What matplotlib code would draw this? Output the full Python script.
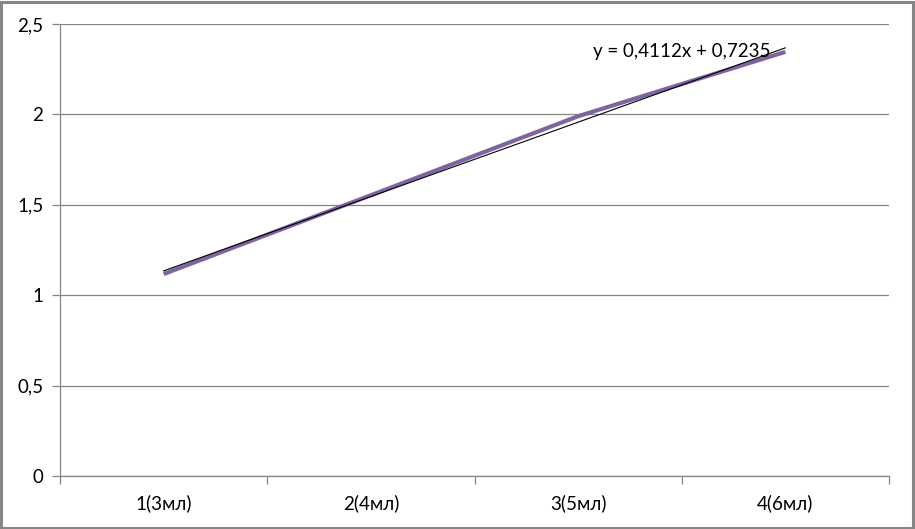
import numpy as np
import matplotlib.pyplot as plt

categories = ["1(3мл)", "2(4мл)", "3(5мл)", "4(6мл)"]
values = [1.117, 1.553, 1.99, 2.346]
trend_slope = 0.4112
trend_intercept = 0.7235
y_ticks = [0, 0.5, 1, 1.5, 2, 2.5]
y_tick_labels = ["0", "0,5", "1", "1,5", "2", "2,5"]

plt.rcParams["font.family"] = ["Lato", "DejaVu Sans"]
grid_col = "#868686"

fig = plt.figure(figsize=(9.15, 5.29), dpi=100)
ax = fig.add_axes([0.0656, 0.1002, 0.906, 0.8544])

x = np.arange(len(categories))
ax.plot(x, values, color="#8064A2", lw=3.0, solid_capstyle="butt", zorder=3)

# trend line from equation (x counted from 1)
xt = x + 1
ax.plot(x, trend_slope * xt + trend_intercept, color="black", lw=0.8, zorder=4)
ax.text(2.07, trend_slope * 4 + trend_intercept - 0.02, "y = 0,4112x + 0,7235",
        fontsize=13.5, ha="left", va="center", zorder=5)

ax.set_xlim(-0.5, len(categories) - 0.5)
ax.set_ylim(0, 2.5)
ax.set_yticks(y_ticks)
ax.set_yticklabels(y_tick_labels, fontsize=13.5)
ax.yaxis.grid(True, color=grid_col, lw=0.9)
ax.set_axisbelow(True)

# category labels centered, ticks on boundaries
ax.set_xticks(x)
ax.set_xticklabels(categories, fontsize=13.5)
ax.tick_params(axis="x", length=0, pad=13)
ax.set_xticks(np.arange(len(categories) + 1) - 0.5, minor=True)
ax.tick_params(axis="x", which="minor", length=6, color=grid_col, width=0.9)
ax.tick_params(axis="y", length=6, color=grid_col, width=0.9, pad=6)

for s in ["top", "right"]:
    ax.spines[s].set_visible(False)
for s in ["left", "bottom"]:
    ax.spines[s].set_color(grid_col)
    ax.spines[s].set_linewidth(0.9)

fig.patches.append(plt.Rectangle((0.001, 0.002), 0.997, 0.995, transform=fig.transFigure,
                                 fill=False, edgecolor=grid_col, lw=2.2))

fig.savefig("out.png", dpi=100)
